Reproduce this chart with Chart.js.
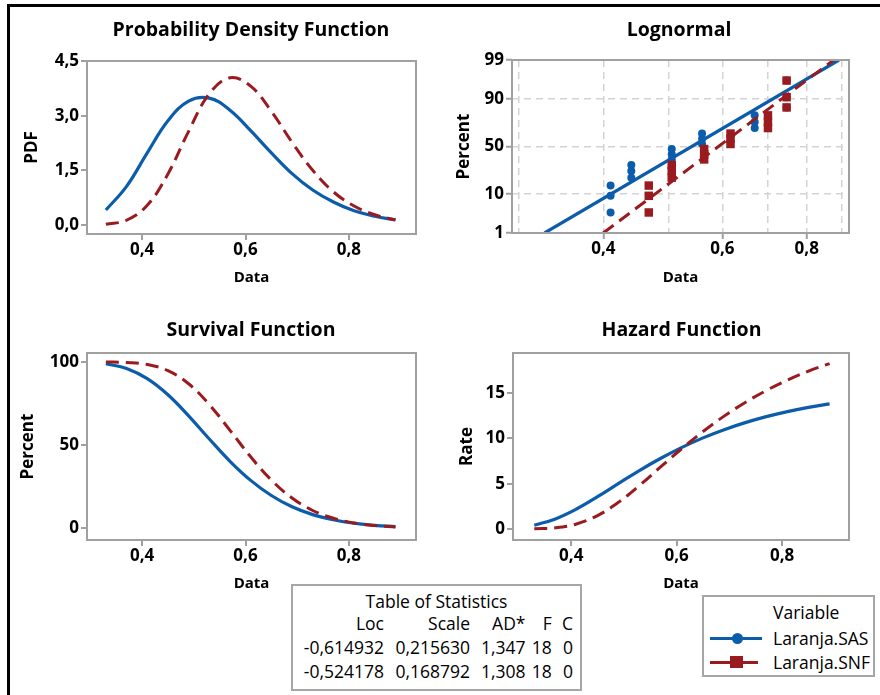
<!DOCTYPE html>
<html>
<head>
<meta charset="utf-8">
<script src="https://cdn.jsdelivr.net/npm/chart.js@4.4.1/dist/chart.umd.min.js"></script>
<style>
  body { margin: 0; width: 880px; height: 695px; overflow: hidden; position: relative; background: #fff; font-family: 'Open Sans', sans-serif; color: #000; }
  #frame { position: absolute; left: 7px; top: 4px; width: 900px; height: 800px; border: 3px solid #000; box-sizing: border-box; }
  canvas { position: absolute; }
  .title { position: absolute; font-weight: bold; font-size: 19.5px; line-height: 20px; white-space: nowrap; transform: translateX(-50%); }
  .box { position: absolute; border: 2px solid #a6a6a6; background: #fff; box-sizing: border-box; }
  .t { position: absolute; font-size: 17.5px; line-height: 20px; white-space: nowrap; }
  .r { transform: translateX(-100%); }
  .c { transform: translateX(-50%); }
</style>
</head>
<body>
<div id="frame"></div>
<canvas id="pdf" width="440" height="300" style="left:0;top:0"></canvas>
<canvas id="logn" width="440" height="300" style="left:440px;top:0"></canvas>
<canvas id="surv" width="440" height="300" style="left:0;top:300px"></canvas>
<canvas id="haz" width="440" height="300" style="left:440px;top:300px"></canvas>

<div class="title" style="left:251px;top:19px">Probability Density Function</div>
<div class="title" style="left:679px;top:19px">Lognormal</div>
<div class="title" style="left:251px;top:319px">Survival Function</div>
<div class="title" style="left:681.5px;top:319px">Hazard Function</div>

<div class="box" style="left:291px;top:584px;width:291px;height:107px"></div>
<div class="box" style="left:702px;top:595px;width:173px;height:82px"></div>
<div id="texts"></div>

<script>
// séries (lognormale ajustée)
const seriesNames = ['Laranja.SAS', 'Laranja.SNF'];
const xs = [0.33, 0.37, 0.41, 0.45, 0.49, 0.53, 0.57, 0.61, 0.65, 0.69, 0.73, 0.77, 0.81, 0.85, 0.89];

const pdfSAS = [0.41, 1.06, 1.98, 2.86, 3.40, 3.48, 3.15, 2.59, 1.98, 1.41, 0.96, 0.63, 0.39, 0.24, 0.14];
const pdfSNF = [0.02, 0.13, 0.54, 1.40, 2.57, 3.60, 4.04, 3.81, 3.12, 2.27, 1.50, 0.91, 0.52, 0.28, 0.14];

const survSAS = [98.9, 96.1, 90.0, 80.3, 67.6, 53.7, 40.3, 28.8, 19.7, 12.9, 8.2, 5.1, 3.0, 1.8, 1.0];
const survSNF = [99.97, 99.7, 98.5, 94.8, 86.9, 74.4, 58.9, 43.0, 29.0, 18.2, 10.7, 6.0, 3.2, 1.6, 0.8];

const hazSAS = [0.41, 1.11, 2.20, 3.56, 5.03, 6.48, 7.81, 9.01, 10.06, 10.96, 11.74, 12.40, 12.96, 13.43, 13.82];
const hazSNF = [0.02, 0.13, 0.55, 1.48, 2.96, 4.83, 6.87, 8.88, 10.76, 12.46, 13.97, 15.29, 16.44, 17.43, 18.26];

// papier lognormal : points (x, pourcentage)
const probSASx = [0.41, 0.41, 0.41, 0.44, 0.44, 0.44, 0.505, 0.505, 0.505, 0.56, 0.56, 0.56, 0.67, 0.67, 0.67, 0.747, 0.747, 0.747];
const probSNFx = [0.467, 0.467, 0.467, 0.505, 0.505, 0.505, 0.564, 0.564, 0.564, 0.617, 0.617, 0.617, 0.701, 0.701, 0.701, 0.747, 0.747, 0.747];
const probPct = [3.80, 9.24, 14.67, 20.11, 25.54, 30.98, 36.41, 41.85, 47.28, 52.72, 58.15, 63.59, 69.02, 74.46, 79.89, 85.33, 90.76, 96.20];
const fitSASx = [0.3274, 0.8929];
const fitSNFx = [0.3998, 0.8768];
const fitPct = [1, 99];

// graduations
const xTicks = [0.4, 0.6, 0.8];
const xTickLabels = ['0,4', '0,6', '0,8'];
const pdfTicks = [0, 1.5, 3, 4.5];
const pdfTickLabels = ['0,0', '1,5', '3,0', '4,5'];
const survTicks = [0, 50, 100];
const survTickLabels = ['0', '50', '100'];
const hazTicks = [0, 5, 10, 15];
const hazTickLabels = ['0', '5', '10', '15'];
const logGrid = [0.3, 0.4, 0.5, 0.6, 0.7, 0.8, 0.9];
const logGridLabels = ['', '0,4', '', '0,6', '', '0,8', ''];
const probTicks = [1, 10, 50, 90, 99];
const probTickLabels = ['1', '10', '50', '90', '99'];

// tableau de statistiques
const statTitle = 'Table of Statistics';
const statHeader = ['Loc', 'Scale', 'AD*', 'F', 'C'];
const statRows = [
  ['-0,614932', '0,215630', '1,347', '18', '0'],
  ['-0,524178', '0,168792', '1,308', '18', '0']
];

const BLUE = '#0b5cab', RED = '#9a1b1f', AXIS = '#a0a0a0';
const FONT = "'Open Sans', sans-serif";
const tickFont = { family: FONT, weight: 'bold', size: 17 };
const xLabelFont = { family: FONT, weight: 'bold', size: 15 };
const yLabelFont = { family: FONT, weight: 'bold', size: 17 };

// inverse de la loi normale (Acklam) pour l'axe de probabilité
function probit(p) {
  const a = [-3.969683028665376e+01, 2.209460984245205e+02, -2.759285104469687e+02, 1.383577518672690e+02, -3.066479806614716e+01, 2.506628277459239e+00];
  const b = [-5.447609879822406e+01, 1.615858368580409e+02, -1.556989798598866e+02, 6.680131188771972e+01, -1.328068155288572e+01];
  const c = [-7.784894002430293e-03, -3.223964580411365e-01, -2.400758276362100e+00, -2.549671373713304e+00, 4.374664141464968e+00, 2.938163982698783e+00];
  const d = [7.784695709041462e-03, 3.224671290700398e-01, 2.445134137142996e+00, 3.754408661907416e+00];
  const pl = 0.02425;
  if (p < pl) {
    const q = Math.sqrt(-2 * Math.log(p));
    return (((((c[0]*q+c[1])*q+c[2])*q+c[3])*q+c[4])*q+c[5]) / ((((d[0]*q+d[1])*q+d[2])*q+d[3])*q+1);
  }
  if (p <= 1 - pl) {
    const q = p - 0.5, r = q * q;
    return (((((a[0]*r+a[1])*r+a[2])*r+a[3])*r+a[4])*r+a[5])*q / (((((b[0]*r+b[1])*r+b[2])*r+b[3])*r+b[4])*r+1);
  }
  const q = Math.sqrt(-2 * Math.log(1 - p));
  return -(((((c[0]*q+c[1])*q+c[2])*q+c[3])*q+c[4])*q+c[5]) / ((((d[0]*q+d[1])*q+d[2])*q+d[3])*q+1);
}

// cadre gris autour de la zone de tracé
const framePlugin = {
  id: 'frame',
  afterDraw(chart) {
    const { ctx, chartArea: a } = chart;
    ctx.save();
    ctx.strokeStyle = AXIS;
    ctx.lineWidth = 2;
    ctx.strokeRect(a.left, a.top, a.right - a.left, a.bottom - a.top);
    ctx.restore();
  }
};

function xAxis(min, max, height, titlePad) {
  return {
    type: 'linear', min, max,
    afterBuildTicks: s => { s.ticks = xTicks.map(v => ({ value: v })); },
    afterFit: s => { s.height = height; },
    ticks: { autoSkip: false, maxRotation: 0, padding: 0, color: '#000', font: tickFont, callback: (v, i) => xTickLabels[i] },
    grid: { drawOnChartArea: false, color: AXIS, lineWidth: 2, tickLength: 6 },
    border: { display: false },
    title: { display: true, text: 'Data', color: '#000', font: xLabelFont, padding: { top: 0, bottom: titlePad } }
  };
}

function yAxis(min, max, ticks, labels, width, text, titlePad) {
  return {
    type: 'linear', min, max,
    afterBuildTicks: s => { s.ticks = ticks.map(v => ({ value: v })); },
    afterFit: s => { s.width = width; },
    ticks: { autoSkip: false, padding: 2, color: '#000', font: tickFont, callback: (v, i) => labels[i] },
    grid: { drawOnChartArea: false, color: AXIS, lineWidth: 2, tickLength: 6 },
    border: { display: false },
    title: { display: true, text, color: '#000', font: yLabelFont, padding: { top: titlePad, bottom: 0 } }
  };
}

function curveChart(id, sas, snf, box, xScale, yScale) {
  return new Chart(document.getElementById(id), {
    type: 'line',
    data: {
      datasets: [
        { label: seriesNames[1], data: xs.map((x, i) => ({ x, y: snf[i] })), borderColor: RED, borderWidth: 3, borderDash: [13, 7], pointRadius: 0, tension: 0.4, fill: false, order: 1 },
        { label: seriesNames[0], data: xs.map((x, i) => ({ x, y: sas[i] })), borderColor: BLUE, borderWidth: 3.2, pointRadius: 0, tension: 0.4, fill: false, order: 2 }
      ]
    },
    options: {
      responsive: false, animation: false, devicePixelRatio: 1,
      layout: { padding: { left: 0, top: box.top, right: box.right, bottom: 0 } },
      plugins: { legend: { display: false }, tooltip: { enabled: false } },
      scales: { x: xScale, y: yScale }
    },
    plugins: [framePlugin]
  });
}

curveChart('pdf', pdfSAS, pdfSNF, { top: 61, right: 24 },
  xAxis(0.2935, 0.9297, 66, 13.5),
  yAxis(-0.247, 4.5, pdfTicks, pdfTickLabels, 87, 'PDF', 22));

curveChart('surv', survSAS, survSNF, { top: 53, right: 24 },
  xAxis(0.2935, 0.9297, 60, 7),
  yAxis(-7.05, 105.4, survTicks, survTickLabels, 87, 'Percent', 18));

curveChart('haz', hazSAS, hazSNF, { top: 53, right: 31 },
  xAxis(0.2896, 0.9268, 60, 7),
  yAxis(-1.22, 19.43, hazTicks, hazTickLabels, 73, 'Rate', 16.5));

// papier de probabilité lognormal
const zMax = probit(0.99);
new Chart(document.getElementById('logn'), {
  type: 'scatter',
  data: {
    datasets: [
      { label: seriesNames[1], data: probSNFx.map((x, i) => ({ x, y: probit(probPct[i] / 100) })), pointStyle: 'rect', pointRadius: 6, backgroundColor: RED, borderWidth: 0, order: 1 },
      { data: fitSNFx.map((x, i) => ({ x, y: probit(fitPct[i] / 100) })), showLine: true, borderColor: RED, borderWidth: 3, borderDash: [13, 7], pointRadius: 0, order: 2 },
      { label: seriesNames[0], data: probSASx.map((x, i) => ({ x, y: probit(probPct[i] / 100) })), pointStyle: 'circle', pointRadius: 4, backgroundColor: BLUE, borderWidth: 0, order: 3 },
      { data: fitSASx.map((x, i) => ({ x, y: probit(fitPct[i] / 100) })), showLine: true, borderColor: BLUE, borderWidth: 3.2, pointRadius: 0, order: 4 }
    ]
  },
  options: {
    responsive: false, animation: false, devicePixelRatio: 1,
    layout: { padding: { left: 0, top: 60, right: 31, bottom: 0 } },
    plugins: { legend: { display: false }, tooltip: { enabled: false } },
    scales: {
      x: {
        type: 'logarithmic', min: 0.293, max: 0.924,
        afterBuildTicks: s => { s.ticks = logGrid.map(v => ({ value: v })); },
        afterFit: s => { s.height = 67; },
        ticks: { autoSkip: false, maxRotation: 0, padding: 0, color: '#000', font: tickFont, callback: (v, i) => logGridLabels[i] },
        grid: { color: '#d3d3d3', lineWidth: 1.5, tickLength: 6, tickWidth: 2,
                tickColor: c => (logGridLabels[c.index] ? AXIS : 'rgba(0,0,0,0)') },
        border: { display: false, dash: [7, 5] },
        title: { display: true, text: 'Data', color: '#000', font: xLabelFont, padding: { top: 0, bottom: 13.5 } }
      },
      y: {
        type: 'linear', min: -zMax, max: zMax,
        afterBuildTicks: s => { s.ticks = probTicks.map(p => ({ value: probit(p / 100) })); },
        afterFit: s => { s.width = 72; },
        ticks: { autoSkip: false, padding: 2, color: '#000', font: tickFont, callback: (v, i) => probTickLabels[i] },
        grid: { color: '#d3d3d3', lineWidth: 1.5, tickLength: 6, tickWidth: 2, tickColor: AXIS },
        border: { display: false, dash: [7, 5] },
        title: { display: true, text: 'Percent', color: '#000', font: yLabelFont, padding: { top: 13.5, bottom: 0 } }
      }
    }
  },
  plugins: [framePlugin]
});

// textes du tableau et de la légende
const texts = document.getElementById('texts');
function addText(txt, x, yc, cls) {
  const el = document.createElement('div');
  el.className = 't ' + (cls || '');
  el.textContent = txt;
  el.style.left = x + 'px';
  el.style.top = (yc - 10) + 'px';
  texts.appendChild(el);
  return el;
}
const colRight = [384, 470, 525.5, 551.7, 573];
const rowY = [623.3, 646.7, 670.7];
addText(statTitle, 436.5, 600.7, 'c');
[statHeader, ...statRows].forEach((row, r) => row.forEach((cell, k) => addText(cell, colRight[k], rowY[r], 'r')));

addText('Variable', 773, 611.7);
const legendY = [638.3, 661.7];
seriesNames.forEach((n, i) => addText(n, 773, legendY[i]));

// symboles de légende
function addShape(css) {
  const el = document.createElement('div');
  el.style.cssText = 'position:absolute;' + css;
  texts.appendChild(el);
}
addShape(`left:710px;top:${legendY[0] - 1.5}px;width:52px;height:3.5px;background:${BLUE}`);
addShape(`left:732px;top:${legendY[0] - 5}px;width:11px;height:11px;border-radius:50%;background:${BLUE}`);
addShape(`left:710px;top:${legendY[1] - 1}px;width:48px;height:3.5px;background:${RED}`);
addShape(`left:730px;top:${legendY[1] - 5.5}px;width:13px;height:12px;background:${RED}`);
</script>
</body>
</html>
